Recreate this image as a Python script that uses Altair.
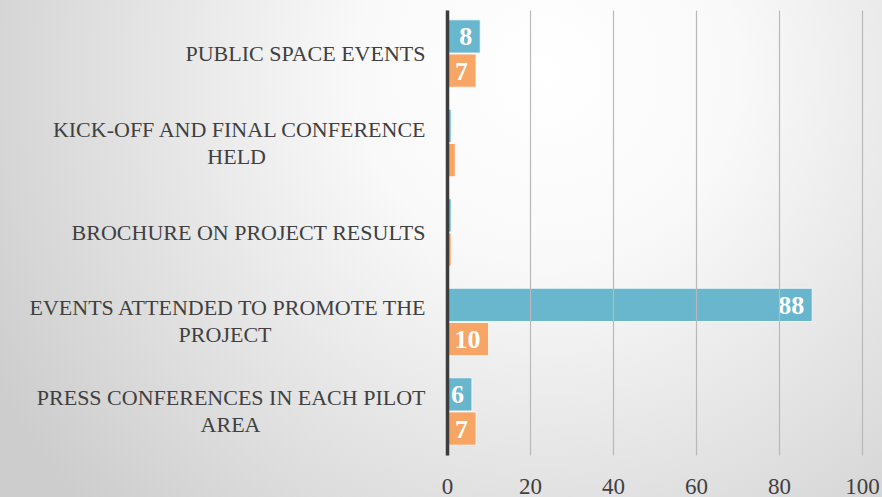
import json
import altair as alt
import pandas as pd

# ---------------- data ----------------
categories = [
    "PUBLIC SPACE EVENTS",
    "KICK-OFF AND FINAL CONFERENCE HELD",
    "BROCHURE ON PROJECT RESULTS",
    "EVENTS ATTENDED TO PROMOTE THE PROJECT",
    "PRESS CONFERENCES IN EACH PILOT AREA",
]
label_lines = [
    ["PUBLIC SPACE EVENTS"],
    ["KICK-OFF AND FINAL CONFERENCE", "HELD"],
    ["BROCHURE ON PROJECT RESULTS"],
    ["EVENTS ATTENDED TO PROMOTE THE", "PROJECT"],
    ["PRESS CONFERENCES IN EACH PILOT", "AREA"],
]
series_names = ["Series 1", "Series 2"]
series1 = [8, 1, 1, 88, 6]
series2 = [7, 2, 1, 10, 7]
x_ticks = [0, 20, 40, 60, 80, 100]
series_colors = ["#62b4cc", "#f8a25f"]

rows = []
for c, a, b in zip(categories, series1, series2):
    rows.append({"category": c, "series": series_names[0], "value": a})
    rows.append({"category": c, "series": series_names[1], "value": b})
df = pd.DataFrame(rows)

# ---- centre shorter label lines under the longer one (serif glyph widths, em) ----
W = dict(A=.722, B=.667, C=.667, D=.722, E=.611, F=.556, G=.722, H=.722, I=.333,
         J=.389, K=.722, L=.611, M=.889, N=.722, O=.722, P=.556, Q=.722, R=.667,
         S=.556, T=.611, U=.722, V=.722, W=.944, X=.722, Y=.722, Z=.611)
W[" "] = .25
W["-"] = .333


def est(s):
    return sum(W.get(ch, .6) for ch in s)


def centred(lines):
    widest = max(est(l) for l in lines)
    out = []
    for l in lines:
        n = round((widest - est(l)) / 2 / .25)
        out.append(l + ("\u00a0" * n + "\u200b" if n else ""))
    return out


expr = "datum.label"
for cat, lines in zip(categories, label_lines):
    expr = f"datum.label === {json.dumps(cat)} ? {json.dumps(centred(lines))} : ({expr})"

multi = [c for c, l in zip(categories, label_lines) if len(l) > 1]
LINE_H = 27
offset_test = f"indexof({json.dumps(multi)}, datum.label) >= 0"

FONT = "Liberation Serif"

bg = alt.Chart(pd.DataFrame({"k": [0]})).mark_rect(
    fill=alt.RadialGradient(
        gradient="radial",
        stops=[
            alt.GradientStop(offset=0, color="#ffffff"),
            alt.GradientStop(offset=0.3, color="#f9f9f9"),
            alt.GradientStop(offset=1, color="#cdcdcd"),
        ],
        x1=0.62, y1=0.3, r1=0, x2=0.62, y2=0.3, r2=0.72,
    )
).encode(x=alt.value(-447), x2=alt.value(435), y=alt.value(-10), y2=alt.value(487))

y_enc = alt.Y(
    "category:N",
    sort=categories,
    scale=alt.Scale(paddingInner=0.247, paddingOuter=0.11),
    axis=alt.Axis(
        title=None, ticks=False, grid=False, domain=True,
        domainColor="#3d3d3d", domainWidth=3.5,
        labelFont=FONT, labelFontSize=22, labelColor="#404040",
        labelPadding=22, labelLimit=460, labelLineHeight=LINE_H,
        labelExpr=expr,
        labelOffset={"condition": {"test": offset_test, "value": -LINE_H / 2}, "value": 0},
        zindex=1,
    ),
)
yoff = alt.YOffset("series:N", sort=series_names, scale=alt.Scale(paddingInner=0.03))
x_enc = alt.X(
    "value:Q",
    scale=alt.Scale(domain=[0, 100], nice=False),
    axis=alt.Axis(
        title=None, values=x_ticks, grid=True, gridColor="#b9b9b9", gridWidth=1.2,
        domain=False, ticks=False, labelFlush=False,
        labelFont=FONT, labelFontSize=23, labelColor="#404040", labelPadding=20,
        zindex=1,
    ),
)

bars = alt.Chart(df).mark_bar(
    stroke="white", strokeWidth=1, strokeOpacity=0.8, opacity=0.95
).encode(
    x=x_enc,
    y=y_enc,
    yOffset=yoff,
    color=alt.Color("series:N", scale=alt.Scale(domain=series_names, range=series_colors), legend=None),
)

labels = alt.Chart(df).transform_filter("datum.value >= 5").mark_text(
    align="right", baseline="middle", dx=-8, dy=1,
    font=FONT, fontWeight="bold", fontSize=26, color="white",
).encode(
    x="value:Q",
    y=alt.Y("category:N", sort=categories),
    yOffset=alt.YOffset("series:N", sort=series_names),
    text="value:Q",
)

chart = alt.layer(bg, bars, labels).properties(
    width=415,
    height=445,
    autosize=alt.AutoSizeParams(type="none"),
    padding={"left": 447, "top": 10, "right": 20, "bottom": 42},
    background="#e4e4e4",
).configure_view(stroke=None)

chart.save("out.html", embed_options={"renderer": "svg", "actions": False})
